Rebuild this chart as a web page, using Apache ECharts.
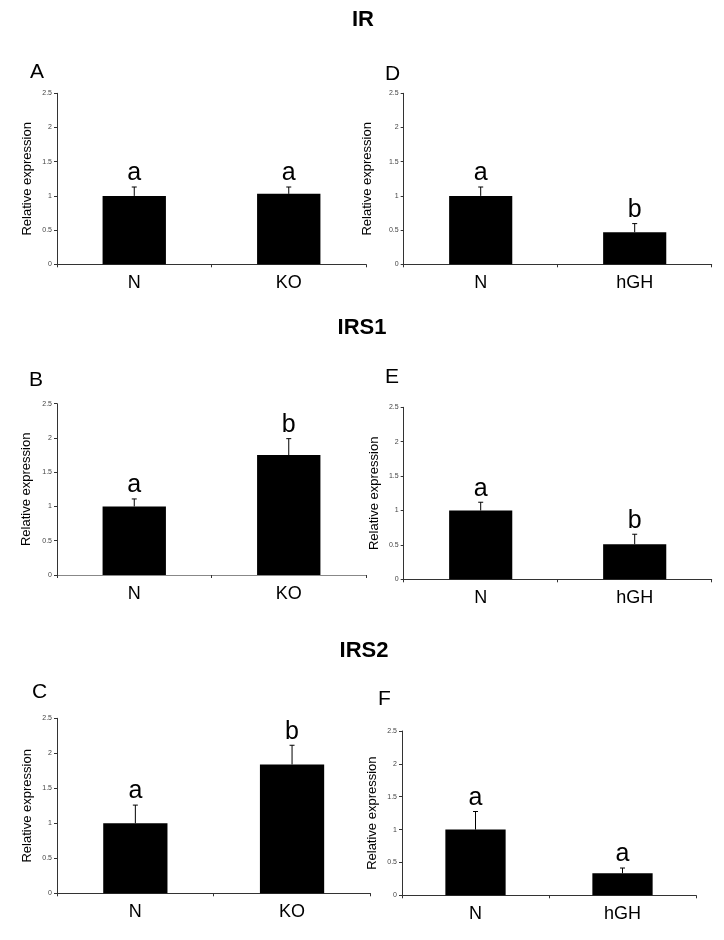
<!DOCTYPE html>
<html>
<head>
<meta charset="utf-8">
<script src="https://cdn.jsdelivr.net/npm/echarts@6/dist/echarts.min.js"></script>
<style>
html,body{margin:0;padding:0;background:#fff;}
#chart{width:724px;height:940px;}
</style>
</head>
<body>
<div id="chart"></div>
<script>
// ---- data ----
const catsKO = ['N', 'KO'];
const catsGH = ['N', 'hGH'];
const yTicks = [0, 0.5, 1, 1.5, 2, 2.5];

const valA = [1.0, 1.03];   const errA = [0.13, 0.10];  const letA = ['a', 'a'];
const valB = [1.0, 1.75];   const errB = [0.11, 0.24];  const letB = ['a', 'b'];
const valC = [1.0, 1.84];   const errC = [0.26, 0.275]; const letC = ['a', 'b'];
const valD = [1.0, 0.47];   const errD = [0.13, 0.125]; const letD = ['a', 'b'];
const valE = [1.0, 0.51];   const errE = [0.12, 0.145]; const letE = ['a', 'b'];
const valF = [1.0, 0.335];  const errF = [0.275, 0.08]; const letF = ['a', 'a'];

const groupTitles = ['IR', 'IRS1', 'IRS2'];
const panelLetters = ['A', 'B', 'C', 'D', 'E', 'F'];

// ---- layout ----
const FONT = 'Liberation Sans, Arial, sans-serif';
const panels = [
  { cats: catsKO, val: valA, err: errA, let: letA, grid: { left: 57,    top: 93.3,  width: 309,   height: 171 },   nameGap: 23,   xColor: '#333' },
  { cats: catsKO, val: valB, err: errB, let: letB, grid: { left: 57,    top: 403.7, width: 309,   height: 171.3 }, nameGap: 24.5, xColor: '#888' },
  { cats: catsKO, val: valC, err: errC, let: letC, grid: { left: 57,    top: 718.3, width: 313.4, height: 175 },   nameGap: 23,   xColor: '#333' },
  { cats: catsGH, val: valD, err: errD, let: letD, grid: { left: 403.7, top: 93.3,  width: 308,   height: 171 },   nameGap: 29.5, xColor: '#333' },
  { cats: catsGH, val: valE, err: errE, let: letE, grid: { left: 403.7, top: 407.3, width: 308,   height: 172 },   nameGap: 23,   xColor: '#333' },
  { cats: catsGH, val: valF, err: errF, let: letF, grid: { left: 402,   top: 731,   width: 294,   height: 164.3 }, nameGap: 23,   xColor: '#333' }
];
const letterPos = [[30, 62], [29, 370], [32, 682], [385, 64], [385, 367], [378, 689]];
const titlePos = [[363, 9], [362, 317], [364, 640]];

const grids = [], xAxes = [], yAxes = [], series = [], titles = [];

groupTitles.forEach((t, i) => {
  titles.push({
    text: t, left: titlePos[i][0], top: titlePos[i][1], textAlign: 'center', padding: 0,
    textStyle: { fontFamily: FONT, fontSize: 22, fontWeight: 'bold', color: '#000' }
  });
});
panelLetters.forEach((t, i) => {
  titles.push({
    text: t, left: letterPos[i][0], top: letterPos[i][1], padding: 0,
    textStyle: { fontFamily: FONT, fontSize: 21, fontWeight: 'normal', color: '#000' }
  });
});

panels.forEach((p, i) => {
  grids.push(Object.assign({ containLabel: false }, p.grid));
  xAxes.push({
    type: 'category', gridIndex: i, data: p.cats,
    axisLine: { lineStyle: { color: p.xColor, width: 1 } },
    axisTick: { show: true, length: 3, alignWithLabel: false, lineStyle: { color: '#333' } },
    axisLabel: { fontFamily: FONT, fontSize: 18, color: '#000', margin: 10 },
    splitLine: { show: false }
  });
  yAxes.push({
    type: 'value', gridIndex: i, min: yTicks[0], max: yTicks[yTicks.length - 1], interval: 0.5,
    name: 'Relative expression', nameLocation: 'middle', nameGap: p.nameGap,
    nameTextStyle: { fontFamily: FONT, fontSize: 13, color: '#000' },
    axisLine: { show: true, lineStyle: { color: '#333', width: 1 } },
    axisTick: { show: true, length: 3, lineStyle: { color: '#333' } },
    axisLabel: { fontFamily: FONT, fontSize: 7, color: '#444', margin: 5 },
    splitLine: { show: false }
  });
  series.push({
    type: 'bar', xAxisIndex: i, yAxisIndex: i, data: p.val, barWidth: '41%',
    itemStyle: { color: '#000' }, silent: true, animation: false
  });
  const letters = p.let;
  series.push({
    type: 'custom', xAxisIndex: i, yAxisIndex: i, animation: false, silent: true, z: 5,
    data: p.val.map((v, k) => [k, v, p.err[k]]),
    renderItem: function (params, api) {
      const x = api.value(0), v = api.value(1), e = api.value(2);
      const p0 = api.coord([x, v]);
      const p1 = api.coord([x, v + e]);
      const cap = 2.5;
      return {
        type: 'group',
        children: [
          { type: 'line', shape: { x1: p0[0], y1: p0[1], x2: p1[0], y2: p1[1] }, style: { stroke: '#000', lineWidth: 1 } },
          { type: 'line', shape: { x1: p1[0] - cap, y1: p1[1], x2: p1[0] + cap, y2: p1[1] }, style: { stroke: '#000', lineWidth: 1 } },
          { type: 'text', style: { text: letters[params.dataIndex], x: p1[0], y: p1[1] - 1, align: 'center', verticalAlign: 'bottom', fontFamily: FONT, fontSize: 25, fill: '#000' } }
        ]
      };
    }
  });
});

const chart = echarts.init(document.getElementById('chart'), null, { renderer: 'canvas' });
chart.setOption({
  backgroundColor: '#fff',
  animation: false,
  title: titles,
  grid: grids,
  xAxis: xAxes,
  yAxis: yAxes,
  series: series
});
</script>
</body>
</html>
